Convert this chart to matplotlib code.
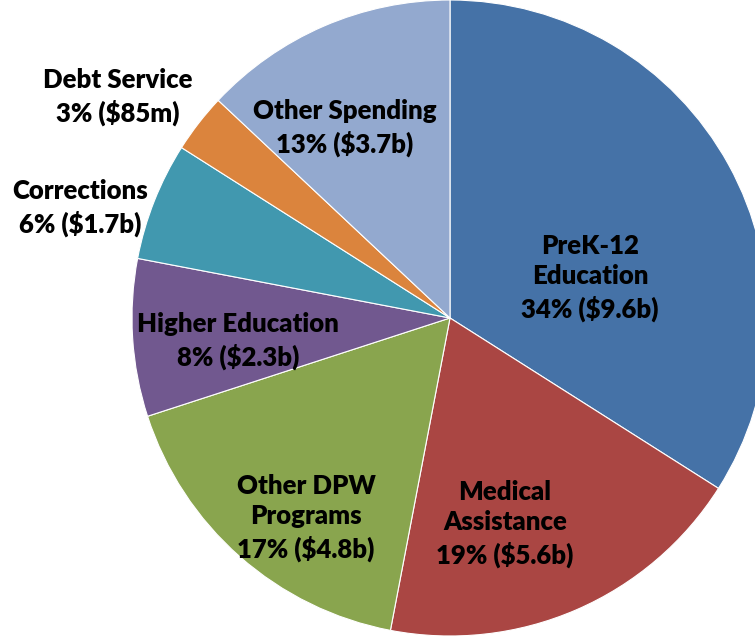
import matplotlib
matplotlib.use("Agg")
import matplotlib.pyplot as plt

# budget shares, clockwise from 12 o'clock
names = ["PreK-12\nEducation", "Medical\nAssistance", "Other DPW\nPrograms",
         "Higher Education", "Corrections", "Debt Service", "Other Spending"]
shares = [34, 19, 17, 8, 6, 3, 13]
amounts = ["$9.6b", "$5.6b", "$4.8b", "$2.3b", "$1.7b", "$85m", "$3.7b"]
colors = ["#4572A7", "#AA4643", "#89A54E", "#71588F", "#4198AF", "#DB843D", "#93A9CF"]

# label anchor points (pixels, from top-left)
label_xy = [(590, 278), (505, 524), (306, 518), (238, 341), (80, 208), (118, 97), (345, 128)]

W, H = 755, 639
fig = plt.figure(figsize=(W / 100, H / 100), dpi=100)
ax = fig.add_axes([0, 0, 1, 1])
ax.pie(shares, colors=colors, startangle=90, counterclock=False,
       center=(450, H - 318), radius=318,
       wedgeprops={"edgecolor": "white", "linewidth": 0.8})
ax.set_xlim(0, W)
ax.set_ylim(0, H)
ax.set_aspect("equal")
ax.axis("off")

for name, s, amt, (x, y) in zip(names, shares, amounts, label_xy):
    ax.text(x, H - y, f"{name}\n{s}% ({amt})", ha="center", va="center",
            fontsize=18.5, fontweight="heavy", family="Lato", linespacing=1.32)

fig.savefig("out.png", dpi=100)
